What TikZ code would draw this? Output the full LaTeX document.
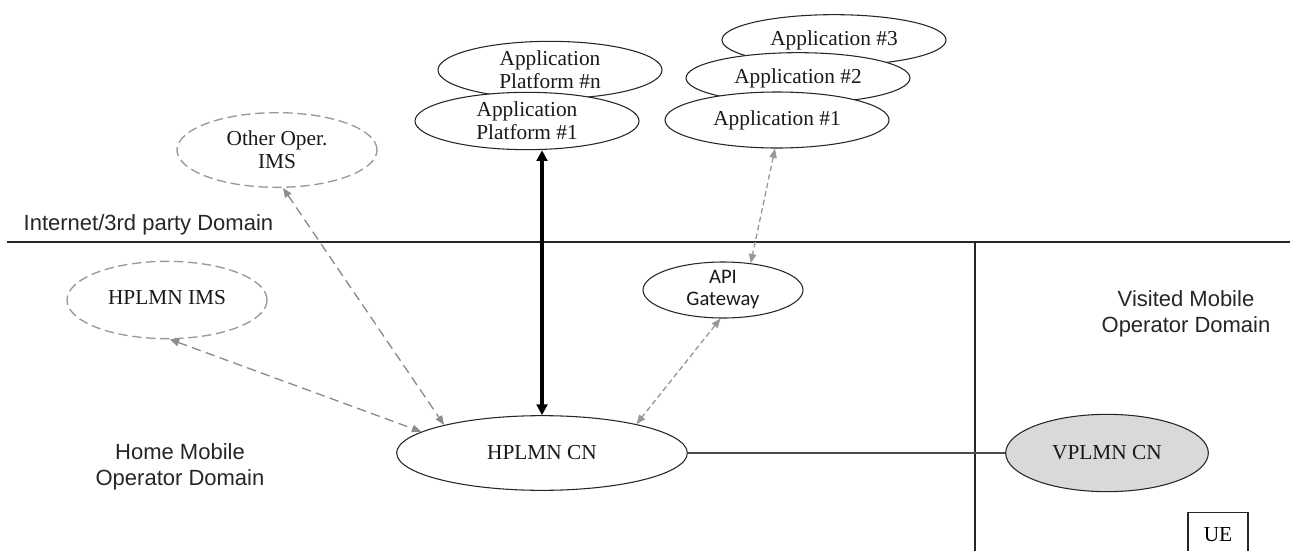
\documentclass[tikz,border=0pt]{standalone}
\usepackage{fontspec}
\setmainfont{Liberation Serif}
\newfontfamily\arialf{Liberation Sans}
\newfontfamily\calibrif{Carlito}
\usetikzlibrary{shapes.geometric,arrows.meta}
\begin{document}
\begin{tikzpicture}[x=0.75pt,y=-0.75pt,
  ell/.style={ellipse, draw=black!85, line width=0.8pt, fill=white, inner sep=0pt, align=center,
    font=\fontsize{16}{17.5}\selectfont, text=black!90},
  dell/.style={ell, draw=black!40, line width=1pt, dash pattern=on 7pt off 3.5pt},
  lbl/.style={font=\arialf\fontsize{16.5}{19.5}\selectfont, align=center, text=black!85},
  garrow/.style={draw=black!45, line width=1pt, dash pattern=on 7pt off 4pt,
    {Triangle[length=7pt,width=5.5pt]}-{Triangle[length=7pt,width=5.5pt]}},
  farrow/.style={draw=black!40, line width=1pt, dash pattern=on 4pt off 2.5pt,
    {Triangle[length=7pt,width=5.5pt]}-{Triangle[length=7pt,width=5.5pt]}},
  tarrow/.style={draw=black, line width=2.8pt,
    {Triangle[length=8pt,width=8pt]}-{Triangle[length=8pt,width=8pt]}},
  divider/.style={draw=black!85, line width=1.1pt}
]
\clip (0,0) rectangle (1295,550);
\fill[white] (0,0) rectangle (1295,550);

% domain dividers
\draw[divider] (7,242) -- (1290,242);
\draw[divider] (975,242) -- (975,560);

% domain labels
\node[lbl, anchor=base west] (inet) at (19,230) {Internet/3rd party Domain};
\node[lbl] (home) at (180,467) {Home Mobile\\Operator Domain};
\node[lbl] (vis) at (1186,314) {Visited Mobile\\Operator Domain};

% internet side nodes
\node[dell, minimum width=150pt, minimum height=56pt] (oims) at (277,150) {Other Oper.\\IMS};
\node[ell, minimum width=168pt, minimum height=43pt] (apn) at (550,70) {Application\\Platform \#n};
\node[ell, minimum width=168pt, minimum height=43pt] (ap1) at (527,121) {Application\\Platform \#1};
\node[ell, minimum width=168pt, minimum height=38pt] (a3) at (834,40) {Application \#3};
\node[ell, minimum width=168pt, minimum height=38pt] (a2) at (798,78) {Application \#2};
\node[ell, minimum width=168pt, minimum height=42pt] (a1) at (777,120) {Application \#1};

% home domain nodes
\node[dell, minimum width=150pt, minimum height=58pt] (hims) at (167,300) {\raisebox{4pt}{HPLMN IMS}};
\node[ell, font=\calibrif\fontsize{15.5}{16.5}\selectfont, minimum width=120pt, minimum height=42pt] (api) at (723,290) {API\\Gateway};
\node[ell, minimum width=218pt, minimum height=56pt] (hcn) at (542,453) {HPLMN CN};

% visited domain nodes
\node[ell, fill=black!15, minimum width=152pt, minimum height=58pt] (vcn) at (1107,453) {VPLMN CN};
\node[draw=black!85, line width=0.8pt, anchor=north, minimum width=45pt, inner ysep=4pt,
  text height=17.5pt, text depth=20pt, font=\fontsize{16}{17.5}\selectfont] (ue) at (1218,512) {UE};

% connectors
\draw[tarrow] (hcn.north |- ap1.south) -- (hcn.north);
\draw[garrow] (oims.-81) -- (hcn.164);
\draw[garrow] (hims.-86) -- (hcn.170);
\draw[farrow] (api.-95) -- (hcn.17);
\draw[farrow] (a1.-94) -- (api.44);
\draw[draw=black!70, line width=1pt] (hcn.east) -- (vcn.west);
\end{tikzpicture}
\end{document}
